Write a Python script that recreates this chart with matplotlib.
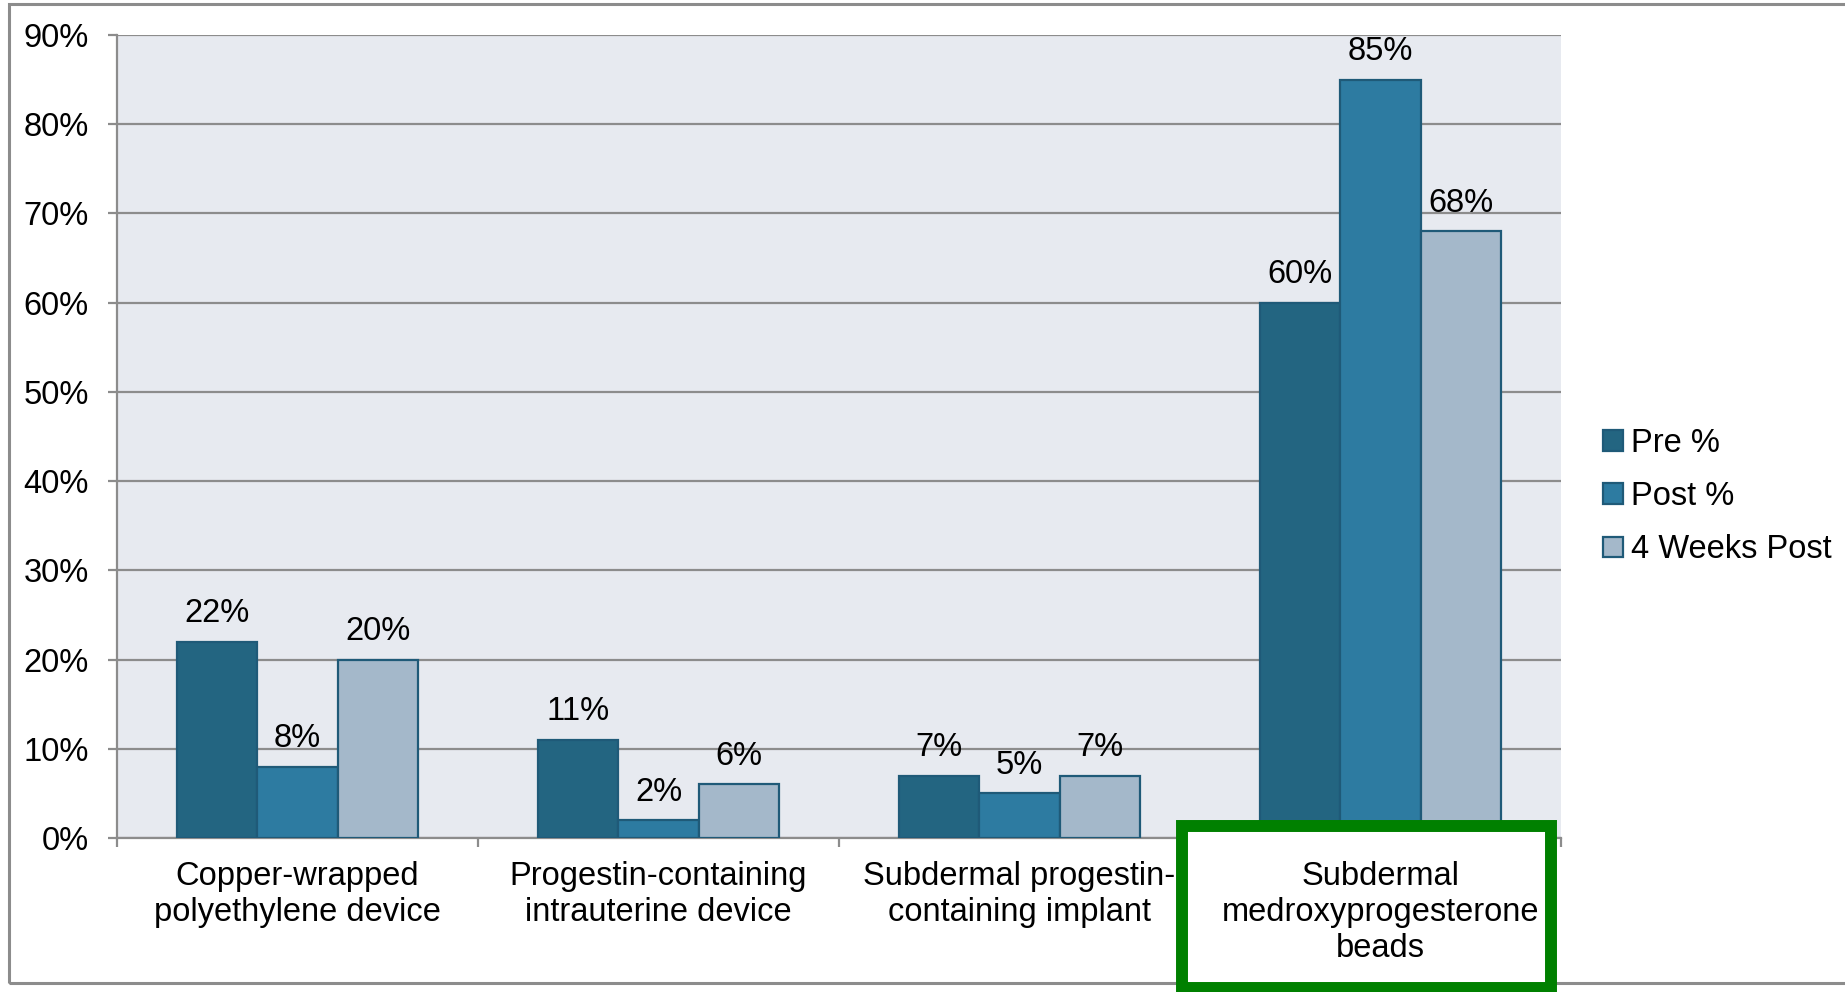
import numpy as np
import matplotlib
matplotlib.use('Agg')
import matplotlib.pyplot as plt
from matplotlib.patches import Rectangle

plt.rcParams['font.family'] = ['Liberation Sans', 'DejaVu Sans']

# Share of respondents choosing each method
categories = ['Copper-wrapped\npolyethylene device',
              'Progestin-containing\nintrauterine device',
              'Subdermal progestin-\ncontaining implant',
              'Subdermal\nmedroxyprogesterone\nbeads']
pre = [22, 11, 7, 60]
post = [8, 2, 5, 85]
weeks4 = [20, 6, 7, 68]
series_names = ['Pre %', 'Post %', '4 Weeks Post']
series_colors = ['#236581', '#2d7ba1', '#a4b8ca']
edge = '#1f5a78'
grid_grey = '#8c8c8c'
fs = 23.5

W, H = 1845, 992
fig = plt.figure(figsize=(W / 100, H / 100), dpi=100)
fig.patch.set_facecolor('white')


def fx(px):
    return px / W


def fy(py):
    return 1 - py / H


ax = fig.add_axes([fx(117), fy(838), fx(1561) - fx(117), fy(35) - fy(838)])
ax.set_facecolor('#e7eaf0')

x = np.arange(len(categories))
w = 0.222
for i, (vals, name, col) in enumerate(zip([pre, post, weeks4], series_names, series_colors)):
    pos = x + (i - 1) * w
    ax.bar(pos, vals, width=w, color=col, edgecolor=edge, linewidth=1.6,
           label=name, zorder=3)
    for px_, v in zip(pos, vals):
        ax.annotate(f'{v}%', (px_, v), xytext=(0, 9), textcoords='offset points',
                    ha='center', va='bottom', fontsize=fs, zorder=4)

ax.set_xlim(-0.5, len(categories) - 0.5)
ax.set_ylim(0, 90)
ax.set_yticks(np.arange(0, 91, 10))
ax.set_yticklabels([f'{t}%' for t in range(0, 91, 10)], fontsize=fs)
ax.yaxis.grid(True, color=grid_grey, linewidth=1.6, zorder=1)
ax.set_axisbelow(True)

ax.set_xticks(np.arange(-0.5, len(categories), 1.0))
ax.set_xticklabels([])
ax.tick_params(axis='both', direction='out', length=6.5, width=1.6, color=grid_grey)
ax.tick_params(axis='y', pad=14)

for s in ['top', 'right']:
    ax.spines[s].set_visible(False)
for s in ['left', 'bottom']:
    ax.spines[s].set_color(grid_grey)
    ax.spines[s].set_linewidth(1.6)

# category names under each group
for xi, name in zip(x, categories):
    ax.text(xi, -2.6, name, ha='center', va='top', fontsize=fs,
            linespacing=1.2, clip_on=False, zorder=12)

# outer frame
fig.add_artist(Rectangle((fx(9), fy(983)), fx(1900) - fx(9), fy(4) - fy(983),
                         transform=fig.transFigure, fill=False,
                         edgecolor=grid_grey, linewidth=2.2, zorder=0))

# highlight box around the last category
ax.add_artist(Rectangle((fx(1182), fy(988)), fx(1551) - fx(1182), fy(826) - fy(988),
                        transform=fig.transFigure, facecolor='white',
                        edgecolor='#008000', linewidth=8.6, clip_on=False, zorder=8))

fig.legend(loc='upper left', bbox_to_anchor=(fx(1603), fy(428)), frameon=False,
           fontsize=fs, handlelength=0.6, handleheight=0.6, handletextpad=0.25,
           labelspacing=0.68, borderpad=0, borderaxespad=0)

fig.savefig('out.png', dpi=100)
